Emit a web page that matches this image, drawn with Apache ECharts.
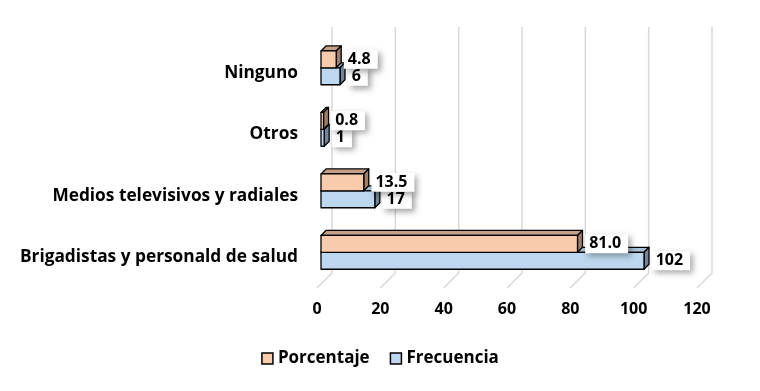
<!DOCTYPE html>
<html><head><meta charset="utf-8">
<script src="https://cdn.jsdelivr.net/npm/echarts@6/dist/echarts.min.js"></script>
<style>html,body{margin:0;padding:0;background:#fff}#c{width:760px;height:391px}</style>
</head><body><div id="c"></div>
<script>
const categories = ['Brigadistas y personald de salud', 'Medios televisivos y radiales', 'Otros', 'Ninguno'];
const frecuencia = [102, 17, 1, 6];
const porcentaje = [81.0, 13.5, 0.8, 4.8];
const ticks = [0, 20, 40, 60, 80, 100, 120];

const FONT = '"Open Sans", Lato, sans-serif';
const colors = {
  Frecuencia: { front: '#BDD7EE', top: '#A9BFD4', side: '#71869A' },
  Porcentaje: { front: '#F8CBAD', top: '#C4A08A', side: '#A07E68' }
};

function barRender(name, slot, decimals) {
  return function (params, api) {
    const v = api.value(0), i = api.value(1);
    const p0 = api.coord([0, i]);
    const p1 = api.coord([v, i]);
    const band = api.size([0, 1])[1];
    const h = band * 0.275;
    const shift = 4, d = 5;
    const c = p0[1];
    const blueTop = c - band * 0.08;
    const yt = slot === 0 ? blueTop : blueTop - h;
    const yb = yt + h;
    const x0 = p0[0] + shift, x1 = p1[0] + shift;
    const col = colors[name];
    const ls = { stroke: '#000', lineWidth: 1.3, lineJoin: 'round' };
    return {
      type: 'group',
      children: [
        { type: 'polygon', shape: { points: [[x0, yt], [x0 + d, yt - d], [x1 + d, yt - d], [x1, yt]] },
          style: Object.assign({ fill: col.top }, ls) },
        { type: 'polygon', shape: { points: [[x1, yt], [x1 + d, yt - d], [x1 + d, yb - d], [x1, yb]] },
          style: Object.assign({ fill: col.side }, ls) },
        { type: 'rect', shape: { x: x0, y: yt, width: x1 - x0, height: h },
          style: Object.assign({ fill: col.front }, ls),
          textContent: { style: {
            text: v.toFixed(decimals), fill: '#000', font: 'bold 16px ' + FONT,
            backgroundColor: '#fff', padding: [2, 7, 1, 4],
            shadowBlur: 6, shadowOffsetX: 3, shadowOffsetY: 3, shadowColor: 'rgba(0,0,0,0.35)'
          } },
          textConfig: { position: 'right', distance: 7 } }
      ]
    };
  };
}

const chart = echarts.init(document.getElementById('c'), null, { renderer: 'canvas' });
chart.setOption({
  animation: false,
  backgroundColor: '#fff',
  grid: { left: 317, width: 380, top: 42, height: 246 },
  xAxis: {
    type: 'value', min: 0, max: 120, interval: 20,
    axisLine: { show: false }, axisTick: { show: false }, splitLine: { show: false },
    axisLabel: { color: '#000', fontWeight: 'bold', fontSize: 16, fontFamily: FONT, margin: 13 }
  },
  yAxis: {
    type: 'category', data: categories,
    axisLine: { show: false }, axisTick: { show: false },
    axisLabel: { color: '#000', fontWeight: 'bold', fontSize: 17.3, fontFamily: FONT, margin: 19 }
  },
  legend: {
    top: 345, left: 'center', itemWidth: 11, itemHeight: 11, itemGap: 20, icon: 'rect',
    data: ['Porcentaje', 'Frecuencia'],
    textStyle: { color: '#000', fontWeight: 'bold', fontSize: 17, fontFamily: FONT },
    itemStyle: { borderColor: '#000', borderWidth: 1.5 }
  },
  series: [
    {
      name: 'wall', type: 'custom', silent: true, z: 1,
      data: ticks.map(t => [t, 0]),
      renderItem: function (params, api) {
        const x = api.coord([api.value(0), 0])[0];
        const cs = params.coordSys;
        const dd = 15;
        return { type: 'polyline',
          shape: { points: [[x + dd, cs.y - dd], [x + dd, cs.y + cs.height - dd], [x, cs.y + cs.height]] },
          style: { stroke: '#D9D9D9', lineWidth: 1.5, fill: null } };
      }
    },
    {
      name: 'Frecuencia', type: 'custom', z: 3,
      itemStyle: { color: colors.Frecuencia.front },
      data: frecuencia.map((v, i) => [v, i]),
      renderItem: barRender('Frecuencia', 0, 0)
    },
    {
      name: 'Porcentaje', type: 'custom', z: 4,
      itemStyle: { color: colors.Porcentaje.front },
      data: porcentaje.map((v, i) => [v, i]),
      renderItem: barRender('Porcentaje', 1, 1)
    }
  ]
});
</script></body></html>
